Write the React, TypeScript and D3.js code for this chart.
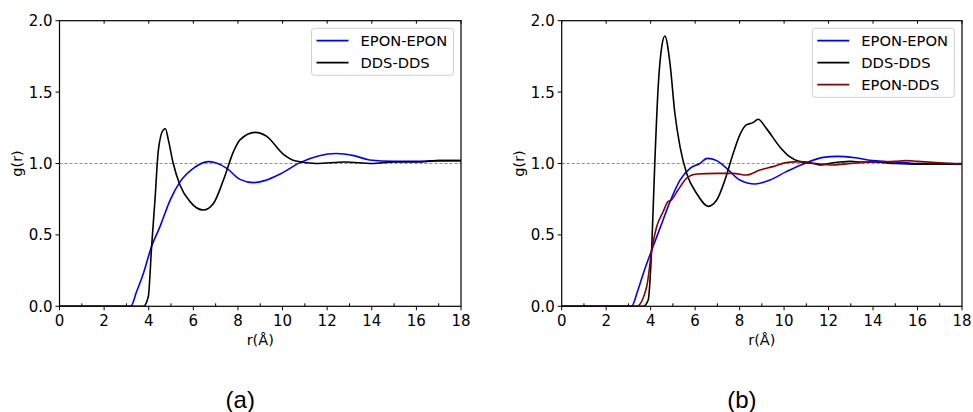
import React from "react";
import * as d3 from "d3";

// Radial distribution functions g(r), r in Å
const rA_eponEpon = [0, 3.0, 3.19, 3.45, 3.76, 4.13, 4.51, 4.96, 5.41, 6.0, 6.67, 7.0, 7.5, 8.09, 8.69, 9.2, 9.89, 10.78, 11.6, 12.4, 13.2, 13.9, 15.0, 16.0, 17.0, 18.0];
const gA_eponEpon = [0, 0, 0, 0.1, 0.23, 0.42, 0.56, 0.744, 0.873, 0.966, 1.013, 1.005, 0.966, 0.889, 0.866, 0.88, 0.926, 1.006, 1.053, 1.07, 1.055, 1.025, 1.015, 1.015, 1.02, 1.02];

const rA_ddsDds = [0, 3.6, 3.76, 3.98, 4.13, 4.28, 4.43, 4.65, 4.75, 4.88, 5.1, 5.4, 5.85, 6.45, 6.9, 7.35, 7.8, 8.09, 8.77, 9.29, 10.0, 10.6, 11.5, 12.8, 14.0, 15.0, 16.0, 17.0, 18.0];
const gA_ddsDds = [0, 0, 0, 0.067, 0.42, 0.744, 1.09, 1.235, 1.243, 1.165, 1.0, 0.85, 0.733, 0.674, 0.72, 0.884, 1.083, 1.165, 1.218, 1.19, 1.07, 1.017, 1.0, 1.01, 1.0, 1.01, 1.01, 1.02, 1.02];

const rB_eponEpon = [0, 3.0, 3.14, 3.4, 3.67, 4.05, 4.5, 4.87, 5.32, 5.77, 6.21, 6.54, 6.97, 7.42, 8.01, 8.69, 9.36, 10.1, 11.0, 11.76, 12.4, 13.2, 14.0, 15.0, 16.0, 17.0, 18.0];
const gB_eponEpon = [0, 0, 0, 0.1, 0.23, 0.394, 0.58, 0.733, 0.884, 0.966, 1.0, 1.036, 1.02, 0.966, 0.884, 0.856, 0.884, 0.943, 1.006, 1.043, 1.05, 1.04, 1.02, 1.01, 1.0, 1.0, 1.0];

const rB_ddsDds = [0, 3.5, 3.67, 3.89, 4.05, 4.19, 4.34, 4.5, 4.64, 4.87, 5.09, 5.32, 5.62, 6.07, 6.59, 6.97, 7.34, 7.71, 8.01, 8.3, 8.6, 8.83, 9.2, 9.8, 10.25, 10.7, 11.3, 11.7, 12.0, 12.5, 13.0, 13.5, 14.0, 15.0, 16.0, 17.0, 18.0];
const gB_ddsDds = [0, 0, 0, 0.044, 0.42, 1.02, 1.54, 1.82, 1.893, 1.7, 1.35, 1.118, 0.93, 0.79, 0.7, 0.744, 0.884, 1.07, 1.2, 1.27, 1.286, 1.31, 1.246, 1.118, 1.048, 1.013, 1.0, 0.99, 1.0, 1.01, 1.015, 1.01, 1.01, 1.0, 0.995, 0.995, 0.995];

const rB_eponDds = [0, 3.2, 3.37, 3.82, 4.05, 4.27, 4.56, 4.78, 4.93, 5.23, 5.61, 6.07, 6.97, 7.71, 8.31, 8.91, 9.5, 10.1, 10.7, 11.45, 12.2, 13.0, 14.0, 15.0, 15.5, 16.0, 17.0, 18.0];
const gB_eponDds = [0, 0, 0, 0.137, 0.394, 0.557, 0.662, 0.733, 0.744, 0.814, 0.896, 0.926, 0.931, 0.931, 0.919, 0.954, 0.978, 1.006, 1.013, 1.0, 0.99, 1.0, 1.01, 1.015, 1.02, 1.015, 1.005, 0.995];

const xTicks = [0, 2, 4, 6, 8, 10, 12, 14, 16, 18];
const yTicks = [0, 0.5, 1.0, 1.5, 2.0];

const seriesNames = ["EPON-EPON", "DDS-DDS", "EPON-DDS"];
const seriesColors = ["#0000ff", "#000000", "#8b0000"];

type Series = { name: string; color: string; r: number[]; g: number[] };

const panelA: Series[] = [
  { name: seriesNames[0], color: seriesColors[0], r: rA_eponEpon, g: gA_eponEpon },
  { name: seriesNames[1], color: seriesColors[1], r: rA_ddsDds, g: gA_ddsDds },
];
const panelB: Series[] = [
  { name: seriesNames[0], color: seriesColors[0], r: rB_eponEpon, g: gB_eponEpon },
  { name: seriesNames[1], color: seriesColors[1], r: rB_ddsDds, g: gB_ddsDds },
  { name: seriesNames[2], color: seriesColors[2], r: rB_eponDds, g: gB_eponDds },
];

const FONT = "DejaVu Sans, sans-serif";

function Panel({
  left,
  right,
  series,
  legendLeft,
  label,
}: {
  left: number;
  right: number;
  series: Series[];
  legendLeft: number;
  label: string;
}) {
  const top = 20.7;
  const bottom = 306.3;
  const x = d3.scaleLinear().domain([0, 18]).range([left, right]);
  const y = d3.scaleLinear().domain([0, 2]).range([bottom, top]);
  const line = d3
    .line<[number, number]>()
    .x((d) => x(d[0]))
    .y((d) => y(d[1]))
    .curve(d3.curveMonotoneX);
  const minorX = d3.range(1, 18, 2);
  const legendW = 142;
  const rowH = 22;
  const legendH = 25 + (series.length - 1) * rowH;
  const legendTop = 28.3;
  const cx = (left + right) / 2;

  return (
    <g>
      <defs>
        <clipPath id={`clip-${label}`}>
          <rect x={left} y={top} width={right - left} height={bottom - top} />
        </clipPath>
      </defs>
      {/* reference line at g(r) = 1 */}
      <line
        x1={left}
        x2={right}
        y1={y(1)}
        y2={y(1)}
        stroke="#808080"
        strokeWidth={0.9}
        strokeDasharray="3,2"
      />
      <g clipPath={`url(#clip-${label})`}>
        {series.map((s) => (
          <path
            key={s.name}
            d={line(s.r.map((r, i) => [r, s.g[i]] as [number, number])) || ""}
            fill="none"
            stroke={s.color}
            strokeWidth={1.6}
            strokeLinejoin="round"
          />
        ))}
      </g>
      <rect
        x={left}
        y={top}
        width={right - left}
        height={bottom - top}
        fill="none"
        stroke="#000"
        strokeWidth={1.2}
      />
      {/* bottom axis */}
      {xTicks.map((t) => (
        <g key={`xt${t}`}>
          <line x1={x(t)} x2={x(t)} y1={bottom} y2={bottom + 4} stroke="#000" strokeWidth={1} />
          <line x1={x(t)} x2={x(t)} y1={top} y2={top + 3} stroke="#000" strokeWidth={1} />
          <text
            x={x(t)}
            y={bottom + 20}
            textAnchor="middle"
            fontFamily={FONT}
            fontSize={15}
            fill="#000"
          >
            {t}
          </text>
        </g>
      ))}
      {minorX.map((t) => (
        <line key={`mx${t}`} x1={x(t)} x2={x(t)} y1={bottom} y2={bottom - 3} stroke="#000" strokeWidth={1} />
      ))}
      {/* left axis */}
      {yTicks.map((t) => (
        <g key={`yt${t}`}>
          <line x1={left - 4} x2={left} y1={y(t)} y2={y(t)} stroke="#000" strokeWidth={1} />
          <text
            x={left - 7}
            y={y(t)}
            dy="0.36em"
            textAnchor="end"
            fontFamily={FONT}
            fontSize={15}
            fill="#000"
          >
            {t.toFixed(1)}
          </text>
        </g>
      ))}
      <text
        x={cx}
        y={345}
        textAnchor="middle"
        fontFamily={FONT}
        fontSize={14.5}
        fill="#000"
      >
        r(Å)
      </text>
      <text
        transform={`translate(${left - 43},${(top + bottom) / 2}) rotate(-90)`}
        textAnchor="middle"
        dy="0.35em"
        fontFamily={FONT}
        fontSize={14.5}
        fill="#000"
      >
        g(r)
      </text>
      {/* legend */}
      <rect
        x={legendLeft}
        y={legendTop}
        width={legendW}
        height={legendH}
        rx={3}
        fill="#fff"
        fillOpacity={0.8}
        stroke="#d0d0d0"
        strokeWidth={1}
      />
      {series.map((s, i) => {
        const ly = legendTop + 12.3 + i * rowH;
        return (
          <g key={`lg${s.name}`}>
            <line
              x1={legendLeft + 5}
              x2={legendLeft + 37}
              y1={ly}
              y2={ly}
              stroke={s.color}
              strokeWidth={1.6}
            />
            <text
              x={legendLeft + 49}
              y={ly}
              dy="0.36em"
              fontFamily={FONT}
              fontSize={14.7}
              fill="#000"
            >
              {s.name}
            </text>
          </g>
        );
      })}
      <text
        x={cx - 20}
        y={408}
        textAnchor="middle"
        fontFamily="Liberation Sans, Arial, sans-serif"
        fontSize={24}
        fill="#000"
      >
        ({label})
      </text>
    </g>
  );
}

export default function App() {
  return (
    <svg
      width={973}
      height={412}
      style={{ position: "absolute", left: 0, top: 0, background: "#fff" }}
    >
      <rect width={973} height={412} fill="#fff" />
      <Panel left={59.5} right={461} series={panelA} legendLeft={311.5} label="a" />
      <Panel left={561.7} right={962} series={panelB} legendLeft={812.3} label="b" />
    </svg>
  );
}
